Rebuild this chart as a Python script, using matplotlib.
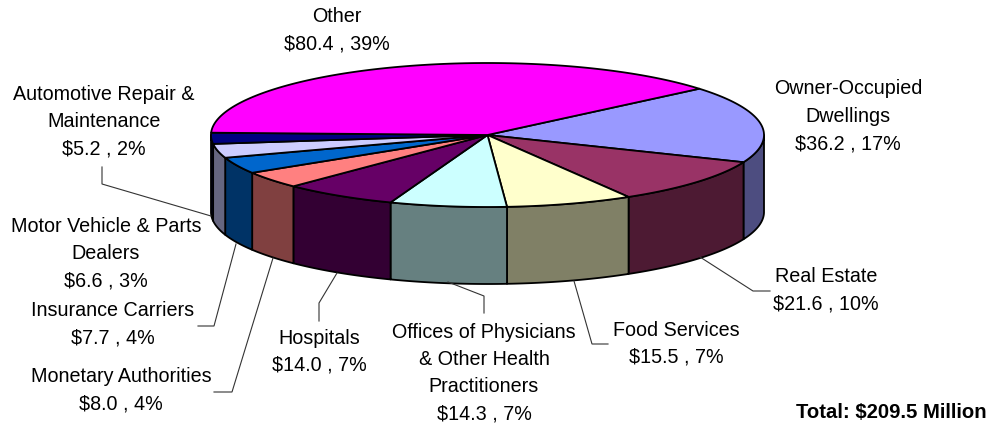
import numpy as np
import matplotlib
matplotlib.use('Agg')
import matplotlib.pyplot as plt

plt.rcParams['font.family'] = ['Liberation Sans', 'DejaVu Sans']

# slices in drawing order, clockwise from the Owner-Occupied edge
names = ['Owner-Occupied\nDwellings', 'Real Estate', 'Food Services',
         'Offices of Physicians\n& Other Health\nPractitioners', 'Hospitals',
         'Monetary Authorities', 'Insurance Carriers',
         'Motor Vehicle & Parts\nDealers', 'Automotive Repair &\nMaintenance', 'Other']
values = [36.2, 21.6, 15.5, 14.3, 14.0, 8.0, 7.7, 6.6, 5.2, 80.4]
percents = [17, 10, 7, 7, 7, 4, 4, 3, 2, 39]
total_text = 'Total: $209.5 Million'

top_colors = ['#9999FF', '#993366', '#FFFFCC', '#CCFFFF', '#660066',
              '#FF8080', '#0066CC', '#CCCCFF', '#000080', '#FF00FF']
side_colors = ['#4D4D80', '#4D1A33', '#808066', '#668080', '#330033',
               '#804040', '#003366', '#666680', '#000040', '#800080']

# pie geometry in pixels
cx, cy = 487.5, 135
rx, ry = 276.5, 72
depth = 77
start_angle = 40.0

# label centres (x, y of first line) and leader lines, in pixels
label_pos = [(848, 89), (826, 277), (676, 330), (484, 332), (319, 338),
             (121, 377), (113, 311), (106, 226), (104, 94), (337, 17)]
line_step = 27.4
leaders = [
    [(770, 291), (753, 291), (700, 257)],
    [(608, 344), (592, 344), (574, 281)],
    [(484, 313), (484, 296), (448, 282)],
    [(319, 321), (319, 303), (337, 273)],
    [(214, 392), (232, 392), (273, 258)],
    [(198, 326), (214, 326), (236, 244)],
    [(102, 167), (102, 184), (211, 216)],
]


def rim(a0, a1, dy=0):
    t = np.radians(np.linspace(a0, a1, 120))
    return cx + rx * np.cos(t), cy + dy - ry * np.sin(t)


fig = plt.figure(figsize=(9.89, 4.23), dpi=100)
ax = fig.add_axes([0, 0, 1, 1])
ax.set_xlim(0, 989)
ax.set_ylim(423, 0)
ax.axis('off')

sweeps = np.array(values) / sum(values) * 360
edges = start_angle - np.concatenate([[0], np.cumsum(sweeps)])

# outer wall, only the front half of the rim shows
for i in range(len(values)):
    a0, a1 = min(edges[i], 0), max(edges[i + 1], -180)
    if a0 <= a1:
        continue
    x0, y0 = rim(a0, a1)
    x1, y1 = rim(a1, a0, depth)
    ax.fill(np.r_[x0, x1], np.r_[y0, y1], facecolor=side_colors[i],
            edgecolor='black', linewidth=1.3, joinstyle='round')

# top face
for i in range(len(values)):
    x0, y0 = rim(edges[i], edges[i + 1])
    ax.fill(np.r_[cx, x0], np.r_[cy, y0], facecolor=top_colors[i],
            edgecolor='black', linewidth=1.3, joinstyle='round')

for pts in leaders:
    xs, ys = zip(*pts)
    ax.plot(xs, ys, color='#333333', linewidth=0.8, solid_joinstyle='miter')

for name, val, pct, (x, y) in zip(names, values, percents, label_pos):
    lines = name.split('\n') + [f'${val:.1f} , {pct}%']
    for k, line in enumerate(lines):
        ax.text(x, y + k * line_step, line, ha='center', va='center',
                fontsize=14.2, color='black')

ax.text(987, 412, total_text, ha='right', va='center', fontsize=14.6,
        fontweight='bold', color='black')

fig.savefig('out.png', dpi=100)
